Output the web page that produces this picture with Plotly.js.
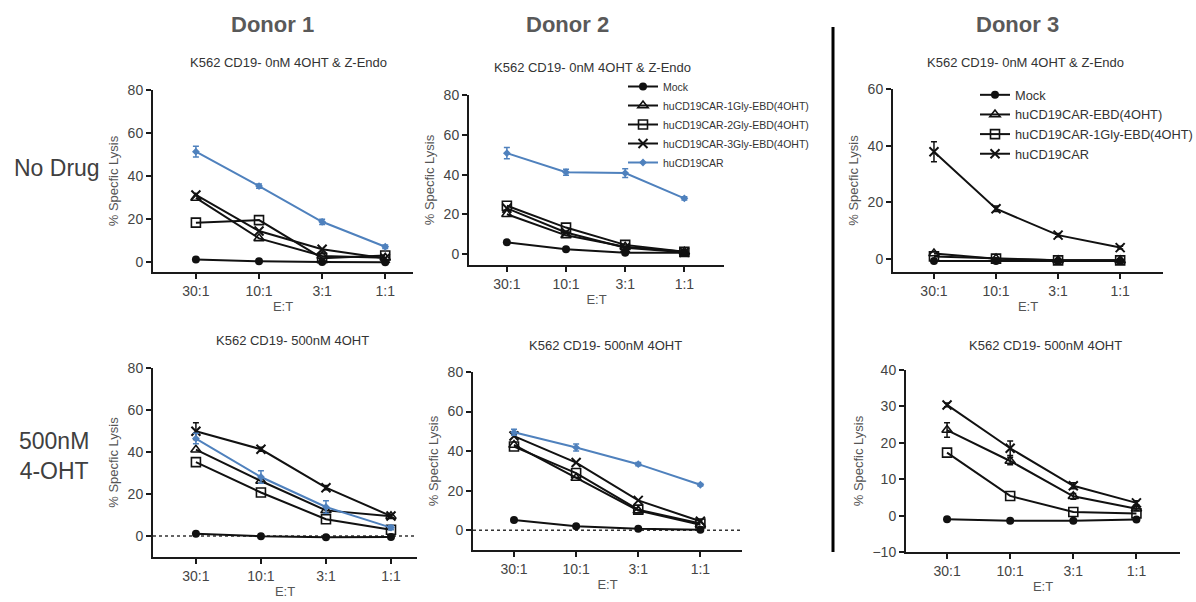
<!DOCTYPE html>
<html>
<head>
<meta charset="utf-8">
<script src="https://cdn.plot.ly/plotly-3.0.1.min.js"></script>
<style>html,body{margin:0;padding:0;background:#fff;overflow:hidden;width:1196px;height:602px;}#chart{width:1196px;height:602px;overflow:hidden;}</style>
</head>
<body>
<div id="chart"></div>
<script>
// ---------- DATA ----------
const ratios = ["30:1", "10:1", "3:1", "1:1"];

// Donor 1 - No drug (0nM 4OHT & Z-Endo)
const d1nd_mock = [1.2, 0.3, 0.0, -0.1];
const d1nd_gly1 = [29.8, 11.0, 2.8, 2.0];
const d1nd_gly2 = [18.3, 19.5, 1.8, 3.0];
const d1nd_gly3 = [31.2, 14.4, 5.9, 1.7];
const d1nd_car  = [51.3, 35.3, 18.7, 7.1];
const d1nd_car_err = [2.5, 1.0, 1.2, 0.8];

// Donor 2 - No drug
const d2nd_mock = [6.0, 2.5, 0.8, 0.8];
const d2nd_gly1 = [20.1, 9.5, 3.8, 1.2];
const d2nd_gly2 = [24.4, 13.4, 4.7, 1.2];
const d2nd_gly3 = [23.1, 10.9, 3.3, 1.0];
const d2nd_car  = [50.8, 41.2, 40.8, 28.1];
const d2nd_car_err = [2.8, 1.5, 2.2, 0.8];

// Donor 3 - No drug
const d3nd_mock = [-0.6, -0.6, -0.6, -0.6];
const d3nd_ebd  = [2.0, 0.2, -0.4, -0.4];
const d3nd_gly1 = [1.0, 0.2, -0.4, -0.4];
const d3nd_car  = [37.9, 17.8, 8.5, 4.1];
const d3nd_car_err = [3.5, 1.0, 0.6, 0.5];

// Donor 1 - 500nM 4OHT
const d1d_mock = [1.1, -0.1, -0.6, -0.5];
const d1d_gly1 = [41.1, 26.2, 12.2, 9.4];
const d1d_gly2 = [35.2, 20.7, 8.0, 3.0];
const d1d_gly3 = [49.9, 41.3, 23.0, 9.5];
const d1d_gly3_err = [4.0, 1.0, 1.0, 0.8];
const d1d_car  = [46.4, 28.1, 13.8, 4.0];
const d1d_car_err = [2.5, 3.0, 3.0, 1.0];

// Donor 2 - 500nM 4OHT
const d2d_mock = [5.2, 2.0, 0.8, 0.3];
const d2d_gly1 = [43.1, 26.4, 9.9, 2.8];
const d2d_gly2 = [42.3, 28.9, 10.4, 3.4];
const d2d_gly3 = [47.6, 34.2, 15.1, 4.5];
const d2d_car  = [49.5, 41.8, 33.4, 23.0];
const d2d_car_err = [1.5, 1.8, 0.8, 0.6];

// Donor 3 - 500nM 4OHT
const d3d_mock = [-1.0, -1.4, -1.4, -1.1];
const d3d_ebd  = [23.5, 15.0, 5.3, 1.9];
const d3d_ebd_err = [2.0, 1.0, 0.8, 0.5];
const d3d_gly1 = [17.3, 5.4, 1.0, 0.6];
const d3d_car  = [30.4, 18.5, 8.2, 3.5];
const d3d_car_err = [0.5, 2.0, 0.8, 0.6];

const legendNamesD2 = ["Mock", "huCD19CAR-1Gly-EBD(4OHT)", "huCD19CAR-2Gly-EBD(4OHT)", "huCD19CAR-3Gly-EBD(4OHT)", "huCD19CAR"];
const legendNamesD3 = ["Mock", "huCD19CAR-EBD(4OHT)", "huCD19CAR-1Gly-EBD(4OHT)", "huCD19CAR"];

// ---------- STYLE ----------
const W = 1196, H = 602;
const px = x => x / W;
const py = y => 1 - y / H;
const BLUE = "#4f81bd";
const BLACK = "#111";
const FONT = "Liberation Sans, Arial, sans-serif";

const STY = {
  circle:   {symbol: "circle", size: 8, color: BLACK, line: {width: 0}},
  triangle: {symbol: "triangle-up-open", size: 9, color: BLACK, line: {width: 1.6, color: BLACK}},
  square:   {symbol: "square-open", size: 9, color: BLACK, line: {width: 1.6, color: BLACK}},
  xmark:    {symbol: "x-thin-open", size: 9, color: BLACK, line: {width: 2, color: BLACK}},
  blue:     {symbol: "diamond", size: 6, color: BLUE, line: {width: 0}}
};

function tr(n, y, sty, name, err, opts) {
  const isBlue = sty === "blue";
  const t = {
    type: "scatter", mode: "lines+markers",
    x: ratios, y: y, name: name,
    xaxis: n === 1 ? "x" : "x" + n, yaxis: n === 1 ? "y" : "y" + n,
    line: {color: isBlue ? BLUE : BLACK, width: 2},
    marker: STY[sty],
    showlegend: false, hoverinfo: "x+y+name"
  };
  if (err) t.error_y = {type: "data", array: err, visible: true, color: isBlue ? BLUE : BLACK, thickness: 1.5, width: 3};
  return Object.assign(t, opts || {});
}

const data = [
  // Panel 1
  tr(1, d1nd_mock, "circle", "Mock"),
  tr(1, d1nd_gly1, "triangle", "huCD19CAR-1Gly-EBD(4OHT)"),
  tr(1, d1nd_gly2, "square", "huCD19CAR-2Gly-EBD(4OHT)"),
  tr(1, d1nd_gly3, "xmark", "huCD19CAR-3Gly-EBD(4OHT)"),
  tr(1, d1nd_car, "blue", "huCD19CAR", d1nd_car_err),
  // Panel 2 (with legend)
  tr(2, d2nd_mock, "circle", legendNamesD2[0], null, {showlegend: true, legend: "legend"}),
  tr(2, d2nd_gly1, "triangle", legendNamesD2[1], null, {showlegend: true, legend: "legend"}),
  tr(2, d2nd_gly2, "square", legendNamesD2[2], null, {showlegend: true, legend: "legend"}),
  tr(2, d2nd_gly3, "xmark", legendNamesD2[3], null, {showlegend: true, legend: "legend"}),
  tr(2, d2nd_car, "blue", legendNamesD2[4], d2nd_car_err, {showlegend: true, legend: "legend"}),
  // Panel 3 (with legend)
  tr(3, d3nd_mock, "circle", legendNamesD3[0], null, {showlegend: true, legend: "legend2"}),
  tr(3, d3nd_ebd, "triangle", legendNamesD3[1], null, {showlegend: true, legend: "legend2"}),
  tr(3, d3nd_gly1, "square", legendNamesD3[2], null, {showlegend: true, legend: "legend2"}),
  tr(3, d3nd_car, "xmark", legendNamesD3[3], d3nd_car_err, {showlegend: true, legend: "legend2"}),
  // Panel 4
  tr(4, d1d_mock, "circle", "Mock"),
  tr(4, d1d_gly1, "triangle", "huCD19CAR-1Gly-EBD(4OHT)"),
  tr(4, d1d_gly2, "square", "huCD19CAR-2Gly-EBD(4OHT)"),
  tr(4, d1d_gly3, "xmark", "huCD19CAR-3Gly-EBD(4OHT)", d1d_gly3_err),
  tr(4, d1d_car, "blue", "huCD19CAR", d1d_car_err),
  // Panel 5
  tr(5, d2d_mock, "circle", "Mock"),
  tr(5, d2d_gly1, "triangle", "huCD19CAR-1Gly-EBD(4OHT)"),
  tr(5, d2d_gly2, "square", "huCD19CAR-2Gly-EBD(4OHT)"),
  tr(5, d2d_gly3, "xmark", "huCD19CAR-3Gly-EBD(4OHT)"),
  tr(5, d2d_car, "blue", "huCD19CAR", d2d_car_err),
  // Panel 6
  tr(6, d3d_mock, "circle", "Mock"),
  tr(6, d3d_ebd, "triangle", "huCD19CAR-EBD(4OHT)", d3d_ebd_err),
  tr(6, d3d_gly1, "square", "huCD19CAR-1Gly-EBD(4OHT)"),
  tr(6, d3d_car, "xmark", "huCD19CAR", d3d_car_err)
];

// panel boxes in pixels: [left, right, top, bottom], y-range, x-range, dtick
const panels = [
  {box: [153, 413, 90, 272], yr: [-4.65, 80], xr: [-0.68, 3.44], dt: 20},
  {box: [469, 724, 95, 265], yr: [-5.4, 80], xr: [-0.64, 3.67], dt: 20},
  {box: [893, 1163, 89, 272], yr: [-4.5, 60], xr: [-0.66, 3.69], dt: 20},
  {box: [153, 417, 368, 557], yr: [-10, 80], xr: [-0.66, 3.40], dt: 20},
  {box: [473, 742, 372, 550], yr: [-10, 80], xr: [-0.66, 3.67], dt: 20},
  {box: [906, 1180, 370, 552], yr: [-10, 40], xr: [-0.65, 3.69], dt: 10}
];

const layout = {
  width: W, height: H,
  margin: {l: 0, r: 0, t: 0, b: 0, pad: 0, autoexpand: false},
  paper_bgcolor: "#fff", plot_bgcolor: "rgba(0,0,0,0)",
  font: {family: FONT, color: "#444"},
  showlegend: true,
  legend: {
    x: px(623), y: py(72), xanchor: "left", yanchor: "top",
    bgcolor: "rgba(0,0,0,0)", borderwidth: 0,
    font: {family: FONT, size: 10.5, color: "#333"},
    itemwidth: 30, tracegroupgap: 0
  },
  legend2: {
    x: px(975), y: py(80), xanchor: "left", yanchor: "top",
    bgcolor: "rgba(0,0,0,0)", borderwidth: 0,
    font: {family: FONT, size: 12.8, color: "#333"},
    itemwidth: 30, tracegroupgap: 0
  },
  annotations: [],
  shapes: []
};

panels.forEach((p, i) => {
  const n = i + 1;
  const xk = n === 1 ? "xaxis" : "xaxis" + n;
  const yk = n === 1 ? "yaxis" : "yaxis" + n;
  layout[xk] = {
    domain: [px(p.box[0]), px(p.box[1])],
    anchor: n === 1 ? "y" : "y" + n,
    type: "category", categoryorder: "array", categoryarray: ratios,
    range: p.xr,
    showline: true, linecolor: "#1a1a1a", linewidth: 2,
    ticks: "outside", ticklen: 5, tickwidth: 2, tickcolor: "#1a1a1a",
    showgrid: false, zeroline: false,
    tickfont: {family: FONT, size: 14, color: "#444"},
    title: {text: "E:T", font: {family: FONT, size: 13, color: "#555"}, standoff: 4},
    automargin: false,
    fixedrange: true
  };
  layout[yk] = {
    domain: [py(p.box[3]), py(p.box[2])],
    anchor: n === 1 ? "x" : "x" + n,
    range: p.yr, dtick: p.dt, tick0: 0,
    showline: true, linecolor: "#1a1a1a", linewidth: 2,
    ticks: "outside", ticklen: 5, tickwidth: 2, tickcolor: "#1a1a1a",
    showgrid: false, zeroline: false,
    tickfont: {family: FONT, size: 14, color: "#444"},
    title: {text: "% Specfic Lysis", font: {family: FONT, size: 13, color: "#555"}, standoff: 6},
    automargin: false,
    fixedrange: true
  };
});

// dotted zero lines in Donor 1 and Donor 2 drug panels
[4, 5].forEach(n => {
  layout.shapes.push({
    type: "line", xref: "x" + n + " domain", yref: "y" + n,
    x0: 0, x1: 1, y0: 0, y1: 0,
    line: {color: "#333", width: 1.5, dash: "dot"}, layer: "below"
  });
});

// vertical separator
layout.shapes.push({
  type: "line", xref: "paper", yref: "paper",
  x0: px(833), x1: px(833), y0: py(27), y1: py(552),
  line: {color: "#000", width: 3}
});

function ann(text, x, y, size, color, bold, family) {
  layout.annotations.push({
    text: bold ? "<b>" + text + "</b>" : text,
    x: px(x), y: py(y), xref: "paper", yref: "paper",
    xanchor: "center", yanchor: "middle", showarrow: false,
    font: {family: family || FONT, size: size, color: color}
  });
}

// column / row headers
ann("Donor 1", 272, 25, 22, "#595959", true);
ann("Donor 2", 567, 25, 22, "#595959", true);
ann("Donor 3", 1017, 25, 22, "#595959", true);
ann("No Drug", 57, 168, 23, "#404040", false);
ann("500nM<br>4-OHT", 54, 456, 23, "#404040", false);

// panel titles
const T0 = "K562 CD19- 0nM 4OHT &amp; Z-Endo";
const T1 = "K562 CD19- 500nM 4OHT";
ann(T0, 288, 63, 13, "#333");
ann(T0, 592, 68, 13, "#333");
ann(T0, 1025, 63, 13, "#333");
ann(T1, 292, 340, 13, "#333");
ann(T1, 605, 345, 13, "#333");
ann(T1, 1045, 345, 13, "#333");

Plotly.newPlot("chart", data, layout, {displayModeBar: false, staticPlot: true});
</script>
</body>
</html>
